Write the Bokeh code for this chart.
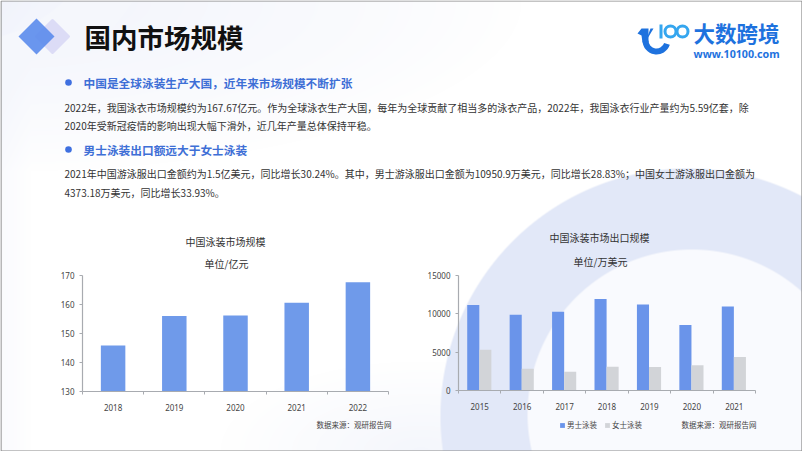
import numpy as np
from bokeh.embed import file_html
from bokeh.resources import INLINE
from bokeh.plotting import figure
from bokeh.models import Range1d, FixedTicker, Title, Legend, LegendItem
from bokeh.core.properties import value

FONT = "Noto Sans CJK SC"
FONT_LAT = "Noto Sans"

# ---- data
years_a = [2018, 2019, 2020, 2021, 2022]
market = [145.9, 156.0, 156.2, 160.6, 167.67]
years_b = [2015, 2016, 2017, 2018, 2019, 2020, 2021]
men = [11140, 9870, 10260, 11930, 11230, 8550, 10950.9]
women = [5300, 2850, 2450, 3110, 3070, 3290, 4373.18]

page_title = "国内市场规模"
heads = ["中国是全球泳装生产大国，近年来市场规模不断扩张", "男士泳装出口额远大于女士泳装"]
body = [
    "2022年，我国泳衣市场规模约为167.67亿元。作为全球泳衣生产大国，每年为全球贡献了相当多的泳衣产品，2022年，我国泳衣行业产量约为5.59亿套，除",
    "2020年受新冠疫情的影响出现大幅下滑外，近几年产量总体保持平稳。",
    "2021年中国游泳服出口金额约为1.5亿美元，同比增长30.24%。其中，男士游泳服出口金额为10950.9万美元，同比增长28.83%；中国女士游泳服出口金额为",
    "4373.18万美元，同比增长33.93%。",
]
src = "数据来源：观研报告网"
legend_labels = ["男士泳装", "女士泳装"]

W, H = 802, 451

# ---- backdrop picture
yy, xx = np.mgrid[0:H, 0:W].astype(float)
def mix(base, col, a):
    return base * (1 - a[..., None]) + np.array(col, float) * a[..., None]
img = np.ones((H, W, 3)) * 255.0
a_tl = np.clip(1 - np.hypot((xx - 0) / 520, (yy - 0) / 170), 0, 1) ** 0.8 * 0.75
img = mix(img, (238, 241, 251), a_tl)
a_bl = np.clip(1 - np.hypot((xx - 420) / 200, (yy - 451) / 90), 0, 1) * 0.7
img = mix(img, (240, 243, 251), a_bl)
a_left = np.clip(1 - xx / 30, 0, 1) * 0.3
img = mix(img, (238, 241, 251), a_left)
# top-left pale ring
d0 = np.hypot(xx + 40, yy + 110)
ring0 = np.clip(d0 - 150, 0, 1) * np.clip(205 - d0, 0, 1)
img = mix(img, (246, 248, 253), ring0 * 0.9)
# big ring, lower right
outer = np.clip(248 - np.hypot(xx - 687, yy - 415), 0, 1)
inner = np.clip(165 - np.hypot(xx - 691, yy - 413), 0, 1)
img = mix(img, (226, 232, 248), outer)
img = mix(img, (249, 250, 254), inner)
rgba = np.dstack([img, np.full((H, W), 255.0)]).astype(np.uint8)
packed = np.frombuffer(rgba.tobytes(), dtype=np.uint32).reshape(H, W)

bg = figure(width=W, height=H, x_range=Range1d(0, W), y_range=Range1d(H, 0),
            x_axis_type=None, y_axis_type=None, toolbar_location=None,
            output_backend="svg", min_border=0, outline_line_color=None)
bg.grid.visible = False
bg.image_rgba(image=[packed], x=0, y=0, dw=W, dh=H)
# page frame
bg.line([0.5, 801.5, 801.5, 0.5, 0.5], [0.5, 0.5, 450.5, 450.5, 0.5], line_color="#8a8a8a", line_width=1.2)

# icon
bg.patch([52, 68, 52, 36], [20, 36, 52, 36], fill_color="#dcdcf6", line_color="#dcdcf6", line_join="round", line_width=3)
bg.patch([36, 54, 36, 18], [18, 36, 54, 36], fill_color="#5b8bec", line_color=None, fill_alpha=0.9)

# logo
cy = "#35a6ef"
blue = "#1e72de"
bg.annular_wedge([656], [40], 8, 14, np.pi * 1.0, np.pi * 1.9, direction="anticlock", fill_color=blue, line_color=None)
bg.patch([641, 648, 648, 642, 641, 637], [28, 28, 42, 42, 35, 33], fill_color=blue, line_color=None)
bg.patch([647, 653, 650, 647], [38, 28, 28, 36], fill_color=blue, line_color=None)
bg.quad(left=[659], right=[662], top=[24], bottom=[38], fill_color=cy, line_color=None)
bg.annulus([670, 682], [31, 31], inner_radius=4, outer_radius=7, fill_color=cy, line_color=None)
bg.text([693], [32], text=["大数跨境"], text_font=value(FONT), text_font_size="21.5px", text_font_style="bold",
        text_color=blue, text_baseline="middle")
bg.text([693], [53.5], text=["www.10100.com"], text_font=value(FONT_LAT), text_font_size="10.7px", text_font_style="bold",
        text_color=blue, text_baseline="middle")

# headings
bg.text([84], [36], text=[page_title], text_font=value(FONT), text_font_size="26.5px", text_font_style="bold",
        text_color="#111111", text_baseline="middle")
bg.circle([68, 68], [82, 149], radius=3.3, fill_color="#3f70e0", line_color=None)
bg.text([83, 83], [82, 149], text=heads, text_font=value(FONT), text_font_size="11.7px", text_font_style="bold",
        text_color="#3e6fd6", text_baseline="middle")
bg.text([64] * 4, [107, 125, 173, 192], text=body, text_font=value(FONT), text_font_size="10px",
        text_color="#333333", text_baseline="middle")
bg.text([391, 756], [424, 424], text=[src, src], text_font=value(FONT), text_font_size="7.5px",
        text_color="#444444", text_baseline="middle", text_align="right")


def chart(left, top, w, h, ml, mt, mr, mb, xs, y0, y1, yticks, t1, t2, off1, off2, st1, st2):
    p = figure(width=w, height=h, x_range=Range1d(xs[0] - 0.5, xs[-1] + 0.5), y_range=Range1d(y0, y1),
               toolbar_location=None, output_backend="svg", min_border_left=ml, min_border_top=mt,
               min_border_right=mr, min_border_bottom=mb, background_fill_alpha=0, border_fill_alpha=0,
               outline_line_color=None)
    p.grid.visible = False
    bounds = [x - 0.5 for x in xs] + [xs[-1] + 0.5]
    p.xaxis.ticker = FixedTicker(ticks=list(xs), minor_ticks=bounds)
    p.xaxis.major_tick_out = 0
    p.xaxis.major_tick_in = 0
    p.xaxis.minor_tick_out = 3
    p.xaxis.minor_tick_in = 0
    p.xaxis.major_label_standoff = 9
    p.yaxis.ticker = FixedTicker(ticks=yticks)
    p.yaxis.major_tick_out = 3
    p.yaxis.major_tick_in = 0
    p.yaxis.minor_tick_out = 0
    p.yaxis.minor_tick_in = 0
    p.yaxis.major_label_standoff = 5
    for ax in (p.xaxis[0], p.yaxis[0]):
        ax.axis_line_color = "#a8abb0"
        ax.axis_line_width = 1.2
        ax.major_tick_line_color = "#a8abb0"
        ax.minor_tick_line_color = "#a8abb0"
        ax.major_label_text_font = FONT_LAT
        ax.major_label_text_font_size = "8px"
        ax.major_label_text_color = "#444444"
    for txt, st, off in ((t2, st2, off2), (t1, st1, off1)):
        p.add_layout(Title(text=txt, align="left", offset=off, text_font=FONT, text_font_size="10px",
                           text_font_style="normal", text_color="#333333", standoff=st, text_line_height=0.7), "above")
    p.styles = {"position": "absolute", "left": f"{left}px", "top": f"{top}px", "width": f"{w}px", "height": f"{h}px"}
    return p


c1 = chart(30, 215, 370, 215, 52, 60, 12, 39, years_a, 130, 170, [130, 140, 150, 160, 170],
           "中国泳装市场规模", "单位/亿元", 103, 122, 0, 10)
c1.vbar(x=years_a, top=market, bottom=130, width=0.4, fill_color="#6f9aea", line_color=None)

c2 = chart(410, 215, 360, 215, 48, 60, 15, 40, years_b, 0, 15000, [0, 5000, 10000, 15000],
           "中国泳装市场出口规模", "单位/万美元", 91, 115, 0, 14)
col_m, col_w = "#6a94ea", "#d2d4d8"
c2.vbar(x=[x - 0.152 for x in years_b], top=men, bottom=0, width=0.285, fill_color=col_m, line_color=None)
c2.vbar(x=[x + 0.132 for x in years_b], top=women, bottom=0, width=0.285, fill_color=col_w, line_color=None)

# legend strip, a transparent figure of its own below the second chart
lg = figure(width=130, height=18, x_range=Range1d(0, 1), y_range=Range1d(0, 1), x_axis_type=None, y_axis_type=None,
            toolbar_location=None, output_backend="svg", min_border=0, background_fill_alpha=0, border_fill_alpha=0,
            outline_line_color=None)
lg.grid.visible = False
r_m = lg.vbar(x=[years_b[0]], top=[men[0]], bottom=men[0], width=0.1, fill_color=col_m, line_color=None)
r_w = lg.vbar(x=[years_b[0]], top=[women[0]], bottom=women[0], width=0.1, fill_color=col_w, line_color=None)
leg = Legend(items=[LegendItem(label=legend_labels[0], renderers=[r_m]), LegendItem(label=legend_labels[1], renderers=[r_w])],
             orientation="horizontal", location=(9, 3), glyph_width=6, glyph_height=6, padding=0, margin=0,
             spacing=7, label_standoff=2, label_text_font=FONT, label_text_font_size="7.5px",
             label_text_color="#444444", background_fill_alpha=0, border_line_color=None)
lg.add_layout(leg, "center")
lg.styles = {"position": "absolute", "left": "550px", "top": "415px", "width": "130px", "height": "18px"}

bg.styles = {"position": "absolute", "left": "0px", "top": "0px", "width": f"{W}px", "height": f"{H}px"}

open("out.html", "w").write(file_html([bg, c1, c2, lg], INLINE))
